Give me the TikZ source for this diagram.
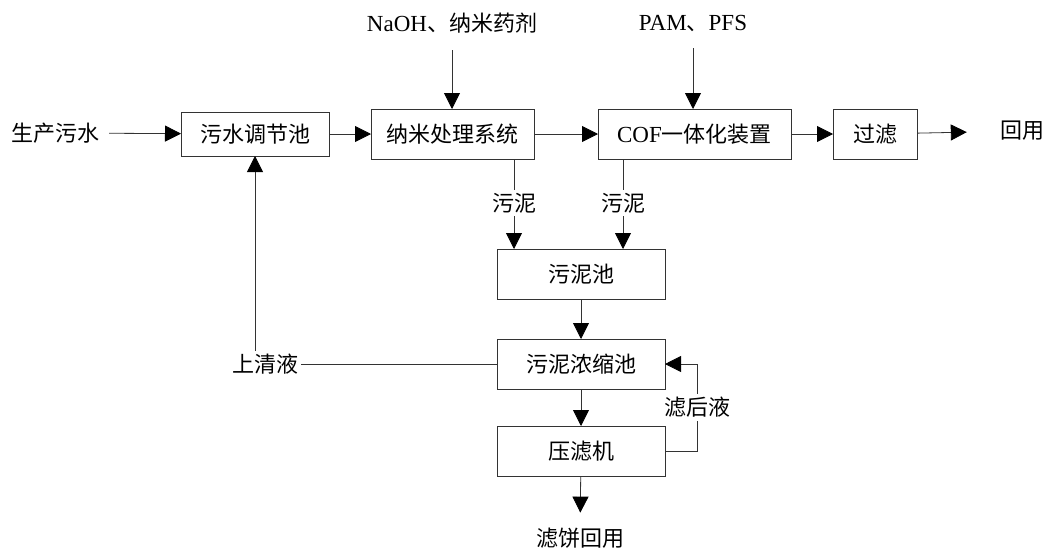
\documentclass[tikz,border=0pt]{standalone}
\usepackage{fontspec}
\setmainfont{Liberation Serif}
\newfontfamily\cjk{Noto Sans CJK SC}
\usetikzlibrary{arrows.meta,positioning}
\newcommand{\lat}[1]{{\rmfamily\fontsize{23}{24}\selectfont #1}}

\begin{document}
\begin{tikzpicture}[x=1pt,y=-1pt,node distance=42pt,
  box/.style={draw=black!80,line width=0.8pt,inner sep=0pt,outer sep=0pt,minimum width=168pt,minimum height=50pt,font=\fontsize{22}{24}\selectfont\cjk},
  lab/.style={inner sep=3pt,font=\fontsize{22}{24}\selectfont\cjk},
  flow/.style={draw=black!80,line width=0.8pt,-{Triangle[length=16pt,width=16pt,color=black]}},
  pipe/.style={draw=black!80,line width=0.8pt}]
\useasboundingbox (0,0) rectangle (1046,550);
% main line
\node[lab] (raw) at (56,133) {生产污水};
\node[box,minimum width=148pt,minimum height=44pt] (tiao) at (255,134) {污水调节池};
\node[box,minimum width=163pt,right=42pt of tiao] (nami) {纳米处理系统};
\node[box,minimum width=193pt,right=64pt of nami] (cof) {\lat{COF}一体化装置};
\node[box,minimum width=84pt,right=42pt of cof] (guolv) {过滤};
\node[lab] (reuse) at (1022,131) {回用};
% dosing
\node[lab] (naoh) at (452,23) {\lat{NaOH}、纳米药剂};
\node[lab] (pam) at (693,23) {\lat{PAM}、\lat{PFS}};
% sludge line
\node[box] (pool) at (581,274) {污泥池};
\node[box,below=40pt of pool] (thick) {污泥浓缩池};
\node[box,below=37pt of thick] (press) {压滤机};
\node[lab] (cake) at (580,538) {滤饼回用};
\node[lab] (sl1) at (514,203) {污泥};
\node[lab] (sl2) at (623,203) {污泥};
\node[lab] (clear) at (265,364) {上清液};

\draw[flow,shorten <=6pt] (raw) -- (tiao);
\draw[flow] (tiao) -- (nami);
\draw[flow] (nami) -- (cof);
\draw[flow] (cof) -- (guolv);
\draw[flow,shorten >=30pt] (guolv) -- (reuse);
\draw[flow,shorten <=14pt] (naoh) -- (naoh |- nami.north);
\draw[flow,shorten <=14pt] (pam) -- (pam |- cof.north);
\draw[pipe] (sl1 |- nami.south) -- (sl1);
\draw[flow] (sl1) -- (sl1 |- pool.north);
\draw[pipe] (sl2 |- cof.south) -- (sl2);
\draw[flow] (sl2) -- (sl2 |- pool.north);
\draw[flow] (pool) -- (thick);
\draw[flow] (thick) -- (press);
\draw[flow,shorten >=12pt] (press) -- (cake);
\draw[flow] (press.east) -- ++(32,0) |- node[lab,fill=white,pos=0.25]{滤后液} (thick.east);
\draw[pipe] (thick.west) -- (clear.east);
\draw[flow] (clear.north -| tiao) -- (tiao.south);
\end{tikzpicture}
\end{document}
